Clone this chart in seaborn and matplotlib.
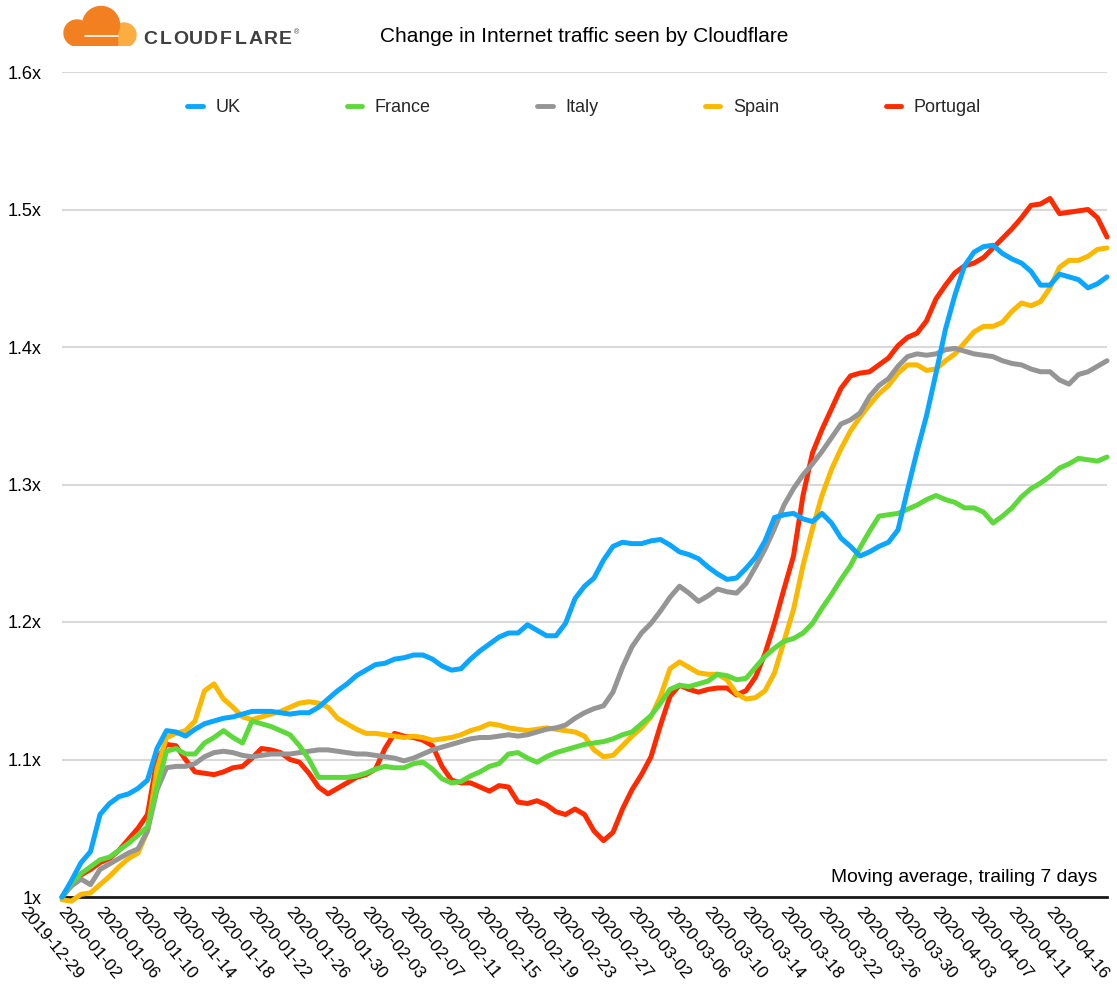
import numpy as np
import pandas as pd
import matplotlib
matplotlib.use('Agg')
import matplotlib.pyplot as plt
import matplotlib.transforms as mtransforms
from matplotlib.patches import Circle, Rectangle
from matplotlib.lines import Line2D
import seaborn as sns

# Series order as in the legend
countries = ['UK', 'France', 'Italy', 'Spain', 'Portugal']
colors = ['#0aa6ff', '#5ed93b', '#959595', '#fbb800', '#ff2a00']

# Every 4th category gets a label
tick_labels = ['2019-12-29', '2020-01-02', '2020-01-06', '2020-01-10', '2020-01-14',
               '2020-01-18', '2020-01-22', '2020-01-26', '2020-01-30', '2020-02-03',
               '2020-02-07', '2020-02-11', '2020-02-15', '2020-02-19', '2020-02-23',
               '2020-02-27', '2020-03-02', '2020-03-06', '2020-03-10', '2020-03-14',
               '2020-03-18', '2020-03-22', '2020-03-26', '2020-03-30', '2020-04-03',
               '2020-04-07', '2020-04-11', '2020-04-16']

y_ticks = [1.0, 1.1, 1.2, 1.3, 1.4, 1.5, 1.6]
y_tick_labels = ['1x', '1.1x', '1.2x', '1.3x', '1.4x', '1.5x', '1.6x']

# traffic relative to baseline, 7-day trailing moving average
uk = [1.000, 1.012, 1.025, 1.033, 1.060, 1.068, 1.073, 1.075, 1.079, 1.085,
      1.108, 1.121, 1.120, 1.117, 1.122, 1.126, 1.128, 1.130, 1.131, 1.133,
      1.135, 1.135, 1.135, 1.134, 1.133, 1.134, 1.134, 1.138, 1.144, 1.150,
      1.155, 1.161, 1.165, 1.169, 1.170, 1.173, 1.174, 1.176, 1.176, 1.173,
      1.168, 1.165, 1.166, 1.173, 1.179, 1.184, 1.189, 1.192, 1.192, 1.198,
      1.194, 1.190, 1.190, 1.199, 1.217, 1.226, 1.232, 1.245, 1.255, 1.258,
      1.257, 1.257, 1.259, 1.260, 1.256, 1.251, 1.249, 1.246, 1.240, 1.235,
      1.231, 1.232, 1.239, 1.247, 1.259, 1.276, 1.278, 1.279, 1.275, 1.273,
      1.279, 1.272, 1.261, 1.255, 1.248, 1.251, 1.255, 1.258, 1.267, 1.296,
      1.324, 1.350, 1.381, 1.413, 1.438, 1.459, 1.469, 1.473, 1.474, 1.468,
      1.464, 1.461, 1.455, 1.445, 1.445, 1.453, 1.451, 1.449, 1.443, 1.446, 1.451]

france = [1.000, 1.010, 1.017, 1.022, 1.027, 1.029, 1.034, 1.039, 1.045, 1.051,
          1.080, 1.106, 1.108, 1.104, 1.104, 1.112, 1.116, 1.121, 1.116, 1.112,
          1.128, 1.126, 1.124, 1.121, 1.118, 1.110, 1.100, 1.087, 1.087, 1.087,
          1.087, 1.088, 1.090, 1.093, 1.095, 1.094, 1.094, 1.097, 1.098, 1.093,
          1.086, 1.083, 1.084, 1.088, 1.091, 1.095, 1.097, 1.104, 1.105, 1.101,
          1.098, 1.102, 1.105, 1.107, 1.109, 1.111, 1.112, 1.113, 1.115, 1.118,
          1.120, 1.126, 1.132, 1.141, 1.151, 1.154, 1.153, 1.155, 1.157, 1.162,
          1.161, 1.158, 1.159, 1.167, 1.175, 1.181, 1.186, 1.188, 1.192, 1.199,
          1.210, 1.220, 1.231, 1.241, 1.254, 1.266, 1.277, 1.278, 1.279, 1.282,
          1.285, 1.289, 1.292, 1.289, 1.287, 1.283, 1.283, 1.280, 1.272, 1.277,
          1.283, 1.291, 1.297, 1.301, 1.306, 1.312, 1.315, 1.319, 1.318, 1.317, 1.320]

italy = [1.000, 1.008, 1.013, 1.009, 1.020, 1.024, 1.028, 1.032, 1.035, 1.048,
         1.078, 1.094, 1.095, 1.095, 1.097, 1.102, 1.105, 1.106, 1.105, 1.103,
         1.102, 1.103, 1.104, 1.104, 1.104, 1.105, 1.106, 1.107, 1.107, 1.106,
         1.105, 1.104, 1.104, 1.103, 1.102, 1.101, 1.099, 1.101, 1.104, 1.107,
         1.109, 1.111, 1.113, 1.115, 1.116, 1.116, 1.117, 1.118, 1.117, 1.118,
         1.120, 1.122, 1.123, 1.125, 1.130, 1.134, 1.137, 1.139, 1.149, 1.167,
         1.182, 1.192, 1.199, 1.208, 1.218, 1.226, 1.221, 1.215, 1.219, 1.224,
         1.222, 1.221, 1.228, 1.240, 1.253, 1.268, 1.285, 1.297, 1.307, 1.315,
         1.324, 1.334, 1.344, 1.347, 1.352, 1.364, 1.372, 1.377, 1.386, 1.393,
         1.395, 1.394, 1.395, 1.398, 1.399, 1.397, 1.395, 1.394, 1.393, 1.390,
         1.388, 1.387, 1.384, 1.382, 1.382, 1.376, 1.373, 1.380, 1.382, 1.386, 1.390]

spain = [0.998, 0.997, 1.002, 1.003, 1.009, 1.015, 1.022, 1.028, 1.032, 1.048,
         1.093, 1.116, 1.119, 1.121, 1.128, 1.150, 1.155, 1.144, 1.138, 1.131,
         1.129, 1.131, 1.133, 1.135, 1.138, 1.141, 1.142, 1.141, 1.138, 1.130,
         1.126, 1.122, 1.119, 1.119, 1.118, 1.117, 1.116, 1.117, 1.116, 1.114,
         1.115, 1.116, 1.118, 1.121, 1.123, 1.126, 1.125, 1.123, 1.122, 1.121,
         1.122, 1.123, 1.122, 1.121, 1.120, 1.117, 1.107, 1.102, 1.103, 1.110,
         1.117, 1.123, 1.131, 1.146, 1.166, 1.171, 1.167, 1.163, 1.162, 1.162,
         1.158, 1.148, 1.144, 1.145, 1.150, 1.163, 1.186, 1.209, 1.241, 1.268,
         1.292, 1.311, 1.326, 1.339, 1.349, 1.358, 1.366, 1.372, 1.381, 1.387,
         1.387, 1.383, 1.384, 1.390, 1.395, 1.403, 1.411, 1.415, 1.415, 1.418,
         1.426, 1.432, 1.430, 1.433, 1.443, 1.458, 1.463, 1.463, 1.466, 1.471, 1.472]

portugal = [1.000, 1.010, 1.016, 1.020, 1.025, 1.028, 1.034, 1.042, 1.050, 1.060,
            1.100, 1.111, 1.110, 1.100, 1.091, 1.090, 1.089, 1.091, 1.094, 1.095,
            1.101, 1.108, 1.107, 1.105, 1.100, 1.098, 1.090, 1.080, 1.075, 1.079,
            1.083, 1.087, 1.089, 1.093, 1.108, 1.119, 1.117, 1.116, 1.114, 1.110,
            1.095, 1.085, 1.083, 1.083, 1.080, 1.077, 1.081, 1.080, 1.069, 1.068,
            1.070, 1.067, 1.062, 1.060, 1.064, 1.060, 1.048, 1.041, 1.047, 1.064,
            1.078, 1.089, 1.102, 1.125, 1.146, 1.154, 1.151, 1.149, 1.151, 1.152,
            1.152, 1.147, 1.150, 1.160, 1.177, 1.199, 1.224, 1.248, 1.292, 1.323,
            1.340, 1.355, 1.370, 1.379, 1.381, 1.382, 1.387, 1.392, 1.401, 1.407,
            1.410, 1.419, 1.435, 1.445, 1.454, 1.459, 1.461, 1.465, 1.472, 1.479,
            1.486, 1.494, 1.503, 1.504, 1.508, 1.497, 1.498, 1.499, 1.500, 1.494, 1.480]

df = pd.DataFrame({'UK': uk, 'France': france, 'Italy': italy,
                   'Spain': spain, 'Portugal': portugal})
df['day'] = np.arange(len(df))
long_df = df.melt(id_vars='day', var_name='country', value_name='traffic')

sns.set_style('white')
plt.rcParams['font.family'] = ['Liberation Sans', 'DejaVu Sans']

W, H = 1117, 1001
fig = plt.figure(figsize=(W / 100, H / 100), dpi=100)
ax = fig.add_axes([62 / W, 104 / H, 1045 / W, 825 / H])

palette = dict(zip(countries, colors))
sns.lineplot(data=long_df, x='day', y='traffic', hue='country', hue_order=countries,
             palette=palette, linewidth=3.6, legend=False, ax=ax)
# UK on top, Portugal underneath
for k, line in enumerate(ax.lines):
    line.set_zorder(10 - k)
    line.set_clip_on(False)
    line.set_solid_joinstyle('round')

ax.set_xlim(0, len(df) - 1)
ax.set_ylim(1.0, 1.6)
ax.set_xlabel('')
ax.set_ylabel('')

ax.set_yticks(y_ticks)
ax.set_yticklabels(y_tick_labels)
ax.set_xticks(np.arange(0, 4 * len(tick_labels), 4))
ax.set_xticklabels(tick_labels, rotation=-50, ha='center', va='top')
ax.tick_params(axis='y', length=0, pad=15, labelsize=13, labelcolor='black')
ax.tick_params(axis='x', length=0, pad=5, labelsize=12.5, labelcolor='black')

# nudge the rotated date labels a little to the left, like the original
shift = mtransforms.ScaledTranslation(-11 / 100, 0, fig.dpi_scale_trans)
for lab in ax.get_xticklabels():
    lab.set_transform(lab.get_transform() + shift)

ax.yaxis.grid(True, color='#d9d9d9', linewidth=1.5)
ax.xaxis.grid(False)
for s in ['top', 'right', 'left']:
    ax.spines[s].set_visible(False)
ax.spines['bottom'].set_color('#1a1a1a')
ax.spines['bottom'].set_linewidth(2)
ax.spines['bottom'].set_zorder(5)

ax.text(0.991, 0.024, 'Moving average, trailing 7 days', transform=ax.transAxes,
        ha='right', va='center', fontsize=13.9, color='black')

# legend across the top
handles = [Line2D([0], [0], color=c, lw=3.5) for c in colors]
fig.legend(handles, countries, loc='center', bbox_to_anchor=(584 / W, 1 - 108 / H),
           ncol=5, frameon=False, fontsize=13, handlelength=0.85,
           handletextpad=0.7, columnspacing=5.9)

fig.text(584 / W, 1 - 36 / H, 'Change in Internet traffic seen by Cloudflare',
         ha='center', va='center', fontsize=15, color='black')

# Cloudflare logo
lax = fig.add_axes([60 / W, 1 - 46 / H, 82 / W, 42 / H])
lax.set_xlim(0, 82)
lax.set_ylim(2, 44)
lax.axis('off')
lax.add_patch(Circle((64, 13), 12, color='#fbad41'))
lax.add_patch(Circle((41, 23), 18.5, color='#f38020'))
lax.add_patch(Circle((17, 15), 13, color='#f38020'))
lax.add_patch(Rectangle((17, 2), 40, 12, color='#f38020'))
lax.plot([25, 58], [12.5, 12.5], color='white', lw=1.2)

letters = 'CLOUDFLARE'
for k, ch in enumerate(letters):
    fig.text((143 + 7.5 + 15 * k) / W, 1 - 39 / H, ch, ha='center', va='center',
             fontsize=14, fontweight='bold', color='#404041')
fig.text(297 / W, 1 - 33 / H, '®', ha='center', va='center', fontsize=5, color='#404041')

fig.savefig('out.png', dpi=100)
